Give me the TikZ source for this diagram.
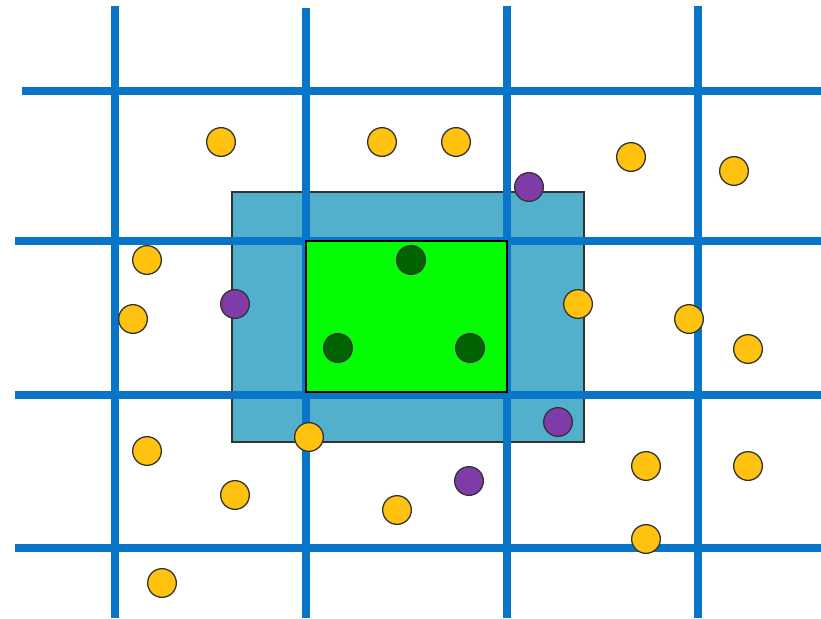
\documentclass[tikz,border=0pt]{standalone}
\begin{document}
\begin{tikzpicture}[x=1pt,y=-1pt,
  gridline/.style={draw=lineblue,line width=8pt},
  dot/.style={circle,draw=black!80,line width=1.3pt,minimum size=28.7pt,inner sep=0pt},
  ydot/.style={dot,fill=dotyellow},
  pdot/.style={dot,fill=dotpurple},
  gdot/.style={dot,fill=dotgreen}]
\definecolor{lineblue}{RGB}{8,117,200}
\definecolor{rectblue}{RGB}{82,176,204}
\definecolor{rectgreen}{RGB}{4,252,4}
\definecolor{dotyellow}{RGB}{255,194,14}
\definecolor{dotpurple}{RGB}{127,60,168}
\definecolor{dotgreen}{RGB}{0,100,0}
\useasboundingbox[fill=white] (0,0) rectangle (821,618);
% outer rectangle
\path[fill=rectblue,draw=black!80,line width=1.5pt] (232,192) rectangle (584,442);
% grid
\coordinate (v1t) at (115,6);   \coordinate (v1b) at (115,618);
\coordinate (v2t) at (306,8);   \coordinate (v2b) at (306,618);
\coordinate (v3t) at (507,6);   \coordinate (v3b) at (507,618);
\coordinate (v4t) at (698,6);   \coordinate (v4b) at (698,618);
\coordinate (h1l) at (22,91);   \coordinate (h1r) at (821,91);
\coordinate (h2l) at (15,241);  \coordinate (h2r) at (821,241);
\coordinate (h3l) at (15,395);  \coordinate (h3r) at (821,395);
\coordinate (h4l) at (15,548);  \coordinate (h4r) at (821,548);
\foreach \a in {v1,v2,v3,v4} \draw[gridline] (\a t) -- (\a b);
\foreach \a in {h1,h2,h3,h4} \draw[gridline] (\a l) -- (\a r);
% inner rectangle
\path[fill=rectgreen,draw=black,line width=1.5pt] (306,241) rectangle (507,392);
% dots
\foreach \p [count=\i] in {(221,142),(382,142),(456,142),(631,157),(734,171),(147,260),(133,319),(578,304),(689,319),(748,349),(147,451),(309,437),(235,495),(397,510),(646,466),(748,466),(646,539),(162,583)}
  \node[ydot] (y\i) at \p {};
\foreach \p [count=\i] in {(529,187),(235,304),(558,422),(469,481)}
  \node[pdot] (p\i) at \p {};
\foreach \p [count=\i] in {(411,260),(338,348),(470,348)}
  \node[gdot] (g\i) at \p {};
\end{tikzpicture}
\end{document}
